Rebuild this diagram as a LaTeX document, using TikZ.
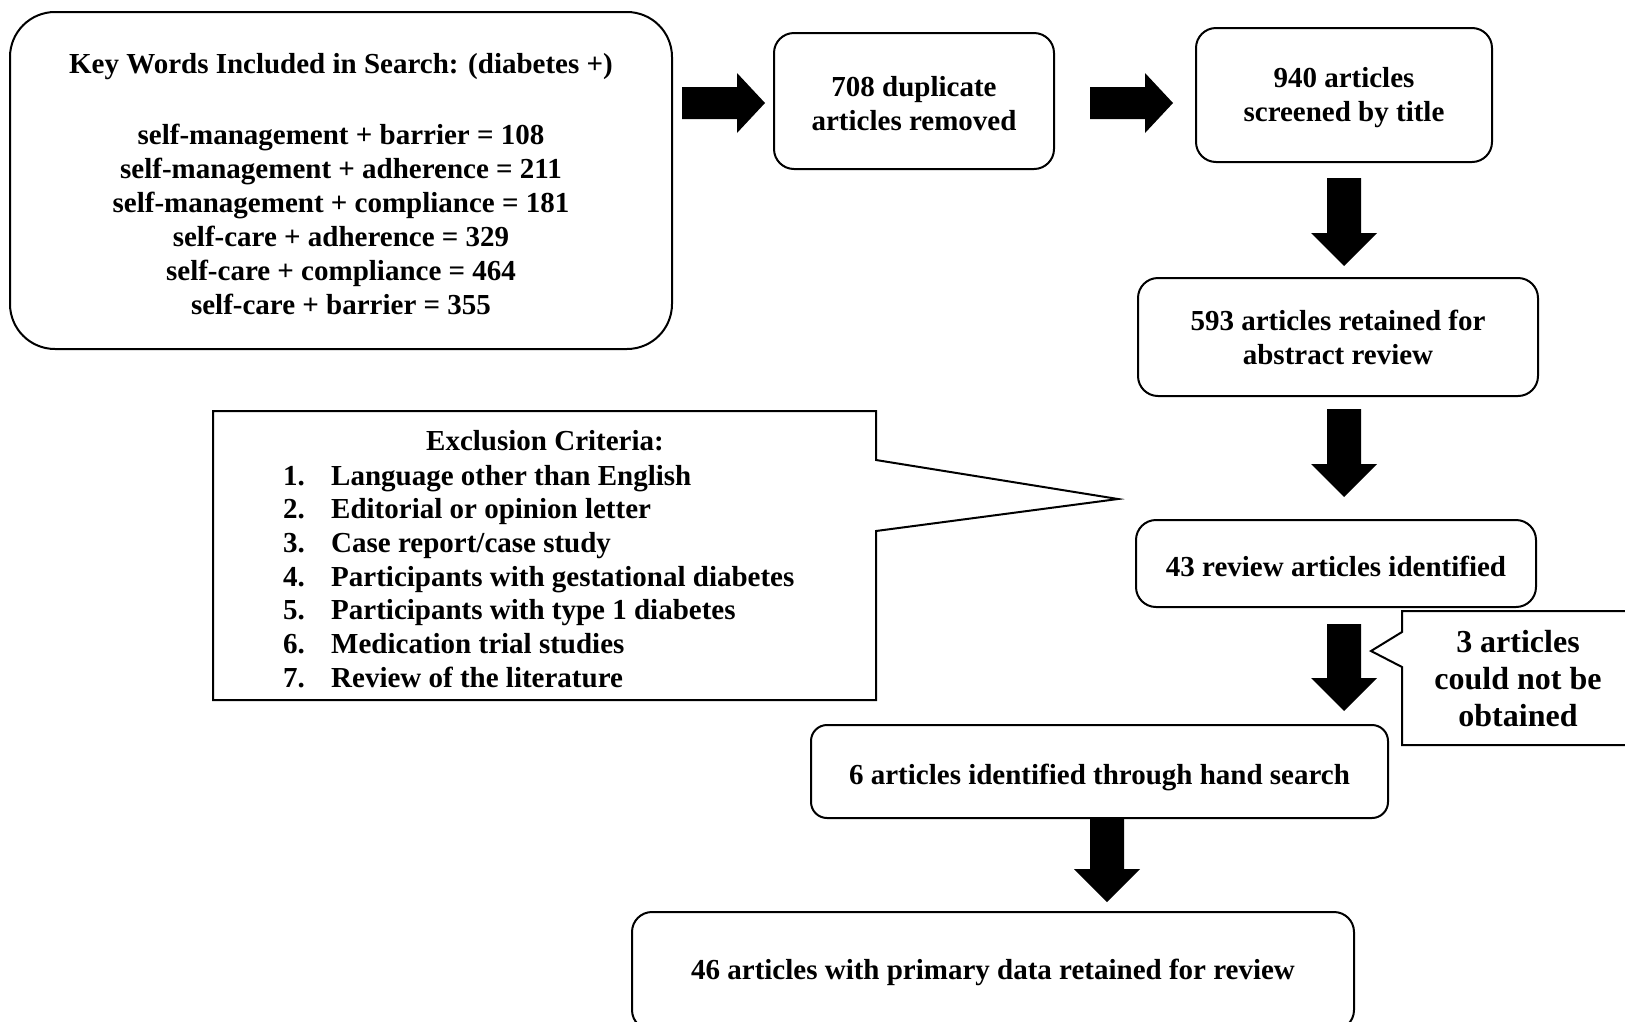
\documentclass[tikz,border=0pt]{standalone}
\usepackage{fontspec}
\setmainfont{Liberation Serif}
\newcommand\blkdown[3]{\fill (#1-17,#2) -- (#1+17,#2) -- (#1+17,#3-33) -- (#1+33,#3-33) -- (#1,#3) -- (#1-33,#3-33) -- (#1-17,#3-33) -- cycle;}
\newcommand\blkright[3]{\fill (#1,#3-16) -- (#2-28,#3-16) -- (#2-28,#3-30) -- (#2,#3) -- (#2-28,#3+30) -- (#2-28,#3+16) -- (#1,#3+16) -- cycle;}
\begin{document}
\begin{tikzpicture}[x=1pt,y=-1pt,
  txt/.style={font=\fontsize{29}{34}\selectfont\bfseries,align=center,inner sep=0pt},
  box/.style={draw,line width=2pt,rounded corners=20pt,inner sep=0pt},
  callout/.style={draw,line width=2pt,fill=white,line join=miter}]
\useasboundingbox (0,0) rectangle (1625,1021);
\fill[white] (0,0) rectangle (1625,1021);

\node[box,rounded corners=45pt,minimum width=662pt,minimum height=337pt] (kw) at (341,180.5) {};
\node[txt] (kwt) at (341,184.5)
 {Key Words Included in Search: (diabetes +)\\[37pt]
  self-management + barrier = 108\\
  self-management + adherence = 211\\
  self-management + compliance = 181\\
  self-care + adherence = 329\\
  self-care + compliance = 464\\
  self-care + barrier = 355};

\node[box,minimum width=280pt,minimum height=136pt] (dup) at (914,101) {};
\node[txt] (dupt) at (914,104) {708 duplicate\\articles removed};
\node[box,minimum width=296pt,minimum height=134pt] (scr) at (1344,95) {};
\node[txt] (scrt) at (1344,98) {940 articles\\screened by title};
\node[box,minimum width=400pt,minimum height=118pt] (abs) at (1338,337) {};
\node[txt] (abst) at (1338,337.5) {593 articles retained for\\abstract review};
\node[box,minimum width=400pt,minimum height=87pt] (rev) at (1336,563.5) {};
\node[txt] (revt) at (1336,566.5) {43 review articles identified};
\node[box,rounded corners=16pt,minimum width=577pt,minimum height=93pt] (hand) at (1099.5,771.5) {};
\node[txt] (handt) at (1099.5,777.5) {6 articles identified through hand search};
\node[box,minimum width=722pt,minimum height=118pt] (fin) at (993,971) {};
\node[txt] (fint) at (993,972) {46 articles with primary data retained for review};

% block arrows
\blkright{682}{765}{103}
\blkright{1090}{1173}{103}
\blkdown{1344}{178}{266}
\blkdown{1344}{409}{497}
\blkdown{1344}{624}{711}
\blkdown{1107}{818}{902}

% exclusion callout
\draw[callout] (213,411) -- (876,411) -- (876,460) -- (1118,499) -- (876,531) -- (876,700) -- (213,700) -- cycle;
\node[txt,anchor=base] (exh) at (545,450) {Exclusion Criteria:};
\foreach \n/\t [count=\i from 0] in {1/{Language other than English},2/{Editorial or opinion letter},3/{Case report{/}case study},4/{Participants with gestational diabetes},5/{Participants with type 1 diabetes},6/{Medication trial studies},7/{Review of the literature}}
  \node[txt,anchor=base west] (ex\n) at (283,485+33.7*\i) {\makebox[48pt][l]{\n.}\t};

% 3 articles callout
\draw[callout] (1640,611) -- (1402,611) -- (1402,632) -- (1371,651) -- (1402,667) -- (1402,745) -- (1640,745) -- cycle;
\node[font=\fontsize{32}{37}\selectfont\bfseries,align=center] (na) at (1518,679) {3 articles\\could not be\\obtained};
\end{tikzpicture}
\end{document}
